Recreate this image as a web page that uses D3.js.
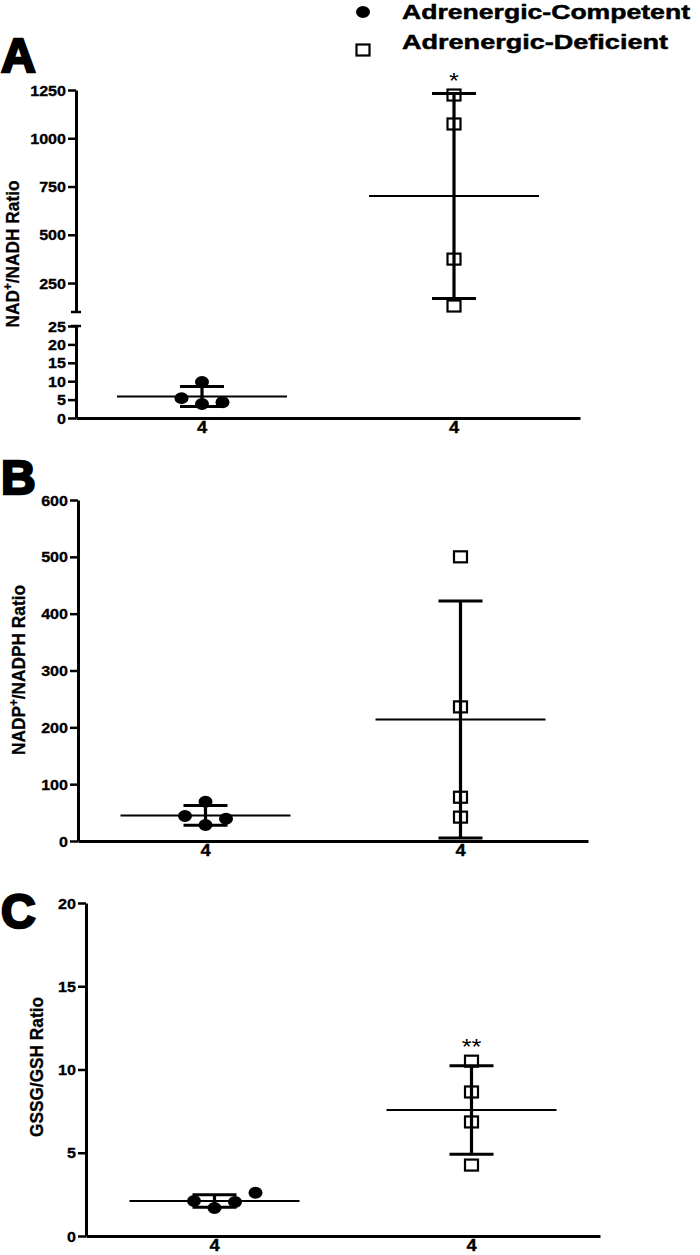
<!DOCTYPE html>
<html><head><meta charset="utf-8">
<script src="https://cdn.jsdelivr.net/npm/d3@7"></script>
<style>
html,body{margin:0;padding:0;background:#fff;}
text{font-family:"Liberation Sans",Arial,sans-serif;font-weight:bold;fill:#000;}
</style></head>
<body><svg id="chart" width="700" height="1255"></svg>
<script>
// ---- data ----
const groups = ["Adrenergic-Competent", "Adrenergic-Deficient"];
const xLabels = ["4", "4"];
// Panel A: NAD+/NADH ratio
const nadCompetent = [5.4, 9.8, 3.8, 4.3];
const nadDeficient = [1224, 1074, 374, 131];
// Panel B: NADP+/NADPH ratio
const nadpCompetent = [44, 69, 28, 39];
const nadpDeficient = [500, 236, 77, 42];
// Panel C: GSSG/GSH ratio
const gssgCompetent = [2.1, 1.68, 2.04, 2.6];
const gssgDeficient = [10.5, 8.65, 6.85, 4.26];
// tick labels
const ticksALow = [0, 5, 10, 15, 20, 25];
const ticksAHigh = [250, 500, 750, 1000, 1250];
const ticksB = [0, 100, 200, 300, 400, 500, 600];
const ticksC = [0, 5, 10, 15, 20];
// scatter slot (dodge) of each competent point
const dodgeA = [-1, 0, 0, 1];
const dodgeB = [-1, 0, 0, 1];
const dodgeC = [-1, 0, 1, 2];
const significance = ["*", "", "**"];

// ---- drawing ----
const svg = d3.select("#chart");
const SX = 1.15; // horizontal stretch of the original figure's text

function stretchTicks(g, offset) {
  g.selectAll(".tick text")
    .attr("x", -offset / SX)
    .attr("transform", `scale(${SX},1)`)
    .style("font-size", "14px")
    .attr("stroke", "#000").attr("stroke-width", 0.3);
}
function styleAxis(g) {
  g.select(".domain").attr("stroke", "#000").attr("stroke-width", 3);
  g.selectAll(".tick line").attr("stroke", "#000").attr("stroke-width", 2.5);
}

function panel(opt) {
  const g = svg.append("g");
  const x = d3.scaleBand().domain(groups).range([opt.x0, opt.x1]);
  const cx = d => x(d) + x.bandwidth() / 2;
  const y = opt.y;

  // y axes
  opt.axes.forEach(a => {
    const ax = g.append("g").attr("transform", `translate(${opt.x0},0)`)
      .call(d3.axisLeft(a.scale).tickValues(a.ticks).tickSize(8).tickPadding(2).tickSizeOuter(0).tickFormat(d3.format("d")));
    styleAxis(ax);
    stretchTicks(ax, 10);
    ax.selectAll(".tick text").attr("dy", "0.36em");
    (a.caps || []).forEach(v => {
      ax.append("line").attr("x1", -5).attr("x2", 5)
        .attr("y1", a.scale(v)).attr("y2", a.scale(v))
        .attr("stroke", "#000").attr("stroke-width", 2.5);
    });
  });

  // x axis
  const xa = g.append("g").attr("transform", `translate(0,${opt.base})`)
    .call(d3.axisBottom(x).tickSize(0).tickPadding(4).tickSizeOuter(0).tickFormat((d, i) => xLabels[i]));
  xa.select(".domain").attr("stroke", "#000").attr("stroke-width", 3);
  xa.selectAll(".tick text").attr("transform", `scale(${SX},1)`).style("font-size", "16px")
    .attr("stroke", "#000").attr("stroke-width", 0.3);

  // y label
  g.append("text")
    .attr("transform", `translate(${opt.labelX},${opt.labelY}) rotate(-90)`)
    .attr("text-anchor", "middle")
    .attr("textLength", opt.labelLen).attr("lengthAdjust", "spacingAndGlyphs")
    .style("font-size", "18px")
    .attr("stroke", "#000").attr("stroke-width", 0.3)
    .call(t => opt.label(t));

  // panel letter
  g.append("text").attr("x", 1).attr("y", opt.letterY)
    .style("font-size", "48px").style("font-weight", "900")
    .attr("stroke", "#000").attr("stroke-width", 2.5)
    .text(opt.letter);

  // series
  opt.series.forEach((vals, gi) => {
    const grp = groups[gi];
    const c = cx(grp);
    const m = d3.mean(vals), s = d3.deviation(vals);
    const capW = 22, meanW = 85;
    // error bar
    g.append("line").attr("x1", c).attr("x2", c).attr("y1", y(m - s)).attr("y2", y(m + s))
      .attr("stroke", "#000").attr("stroke-width", 3.2);
    [m - s, m + s].forEach(v => g.append("line")
      .attr("x1", c - capW).attr("x2", c + capW).attr("y1", y(v)).attr("y2", y(v))
      .attr("stroke", "#000").attr("stroke-width", 3));
    g.append("line").attr("x1", c - meanW).attr("x2", c + meanW).attr("y1", y(m)).attr("y2", y(m))
      .attr("stroke", "#000").attr("stroke-width", 2);
    // points
    if (gi === 0) {
      g.selectAll(null).data(vals).enter().append("ellipse")
        .attr("cx", (d, i) => c + opt.dodge[i] * 20.5).attr("cy", d => y(d))
        .attr("rx", 7).attr("ry", 6).attr("fill", "#000");
    } else {
      g.selectAll(null).data(vals).enter().append("rect")
        .attr("x", c - 6.5).attr("y", d => y(d) - 5.5)
        .attr("width", 13).attr("height", 11)
        .attr("fill", "none").attr("stroke", "#000").attr("stroke-width", 2.2);
    }
    if (opt.sig && gi === 1) {
      g.append("text").attr("x", c).attr("y", y(d3.max(vals)) - 7)
        .attr("text-anchor", "middle").style("font-size", "22px").style("font-weight", "normal")
        .attr("transform", `translate(${c},0) scale(${SX},1) translate(${-c},0)`)
        .text(opt.sig);
    }
  });
}

// Panel A (broken axis)
const yAHigh = d3.scaleLinear().domain([100, 1250]).range([312, 90]);
const yALow = d3.scaleLinear().domain([0, 25]).range([418, 326]);
const yA = v => v > 25 ? yAHigh(v) : yALow(v);
panel({
  x0: 76, x1: 580, base: 418, y: yA,
  axes: [{scale: yAHigh, ticks: ticksAHigh, caps: [100]}, {scale: yALow, ticks: ticksALow, caps: [25]}],
  series: [nadCompetent, nadDeficient], dodge: dodgeA, sig: significance[0],
  letter: "A", letterY: 72, labelX: 19, labelY: 254, labelLen: 147,
  label: t => { t.append("tspan").text("NAD"); t.append("tspan").attr("dy", -7).style("font-size", "12px").text("+"); t.append("tspan").attr("dy", 7).text("/NADH Ratio"); }
});

// Panel B
const yB = d3.scaleLinear().domain([0, 600]).range([841, 500]);
panel({
  x0: 78, x1: 588, base: 841, y: yB,
  axes: [{scale: yB, ticks: ticksB}],
  series: [nadpCompetent, nadpDeficient], dodge: dodgeB, sig: significance[1],
  letter: "B", letterY: 494, labelX: 25, labelY: 670, labelLen: 170,
  label: t => { t.append("tspan").text("NADP"); t.append("tspan").attr("dy", -7).style("font-size", "12px").text("+"); t.append("tspan").attr("dy", 7).text("/NADPH Ratio"); }
});

// Panel C
const yC = d3.scaleLinear().domain([0, 20]).range([1236, 903]);
panel({
  x0: 86, x1: 600, base: 1236, y: yC,
  axes: [{scale: yC, ticks: ticksC}],
  series: [gssgCompetent, gssgDeficient], dodge: dodgeC, sig: significance[2],
  letter: "C", letterY: 928, labelX: 43, labelY: 1067, labelLen: 140,
  label: t => t.text("GSSG/GSH Ratio")
});

// Legend
const leg = svg.append("g");
leg.append("ellipse").attr("cx", 363).attr("cy", 12).attr("rx", 7).attr("ry", 6).attr("fill", "#000");
leg.append("rect").attr("x", 356.5).attr("y", 44.5).attr("width", 13).attr("height", 11)
  .attr("fill", "none").attr("stroke", "#000").attr("stroke-width", 2.2);
leg.append("text").attr("x", 402).attr("y", 19).style("font-size", "21px")
  .attr("stroke", "#000").attr("stroke-width", 0.5)
  .attr("textLength", 288).attr("lengthAdjust", "spacingAndGlyphs").text(groups[0]);
leg.append("text").attr("x", 402).attr("y", 49).style("font-size", "21px")
  .attr("stroke", "#000").attr("stroke-width", 0.5)
  .attr("textLength", 266).attr("lengthAdjust", "spacingAndGlyphs").text(groups[1]);
</script></body></html>
